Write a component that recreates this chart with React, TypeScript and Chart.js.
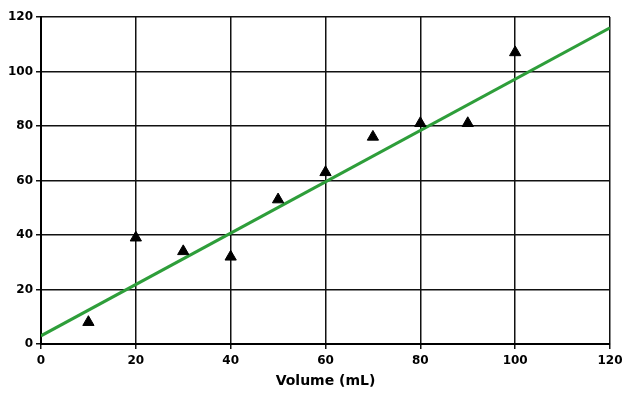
import React, { useEffect, useRef } from "react";
import { Chart, registerables } from "chart.js";

Chart.register(...registerables);

const volumes = [10, 20, 30, 40, 50, 60, 70, 80, 90, 100];
const values = [8, 39, 34, 32, 53, 63, 76, 81, 81, 107];
const fitX = [0, 120];
const fitY = [3, 116];
const xTitle = "Volume (mL)";

export default function App() {
  const ref = useRef<HTMLCanvasElement>(null);
  useEffect(() => {
    const ctx = ref.current!;
    const font = { family: "'DejaVu Sans', Verdana, sans-serif", size: 12, weight: "bold" as const };
    const chart = new Chart(ctx, {
      type: "scatter",
      data: {
        datasets: [
          {
            label: "fit",
            data: fitX.map((x, i) => ({ x, y: fitY[i] })),
            showLine: true,
            borderColor: "#2e9e3a",
            borderWidth: 3,
            pointRadius: 0,
            order: 1,
          },
          {
            label: "data",
            data: volumes.map((x, i) => ({ x, y: values[i] })),
            pointStyle: "triangle",
            pointRadius: 6.5,
            backgroundColor: "#000",
            borderColor: "#000",
            borderWidth: 1,
            order: 0,
          },
        ],
      },
      options: {
        animation: false,
        responsive: false,
        maintainAspectRatio: false,
        layout: { padding: { top: 17, right: 12, left: 0, bottom: 0 } },
        plugins: { legend: { display: false }, tooltip: { enabled: false } },
        scales: {
          x: {
            type: "linear",
            min: 0,
            max: 120,
            ticks: { stepSize: 20, color: "#000", font, padding: 5 },
            grid: { color: "#111", lineWidth: 1.5, tickLength: 5 },
            border: { color: "#000", width: 2 },
            title: { display: true, text: xTitle, color: "#000", font: { ...font, size: 14 }, padding: { top: 7 } },
            afterFit: (s: any) => { s.height = 50; s.paddingRight = 0; s.paddingLeft = 0; },
          },
          y: {
            type: "linear",
            min: 0,
            max: 120,
            ticks: { stepSize: 20, color: "#000", font, padding: 3 },
            grid: { color: "#111", lineWidth: 1.5, tickLength: 5 },
            border: { color: "#000", width: 2 },
            afterFit: (s: any) => { s.width = 41; },
          },
        },
      },
    });
    return () => chart.destroy();
  }, []);
  return (
    <div style={{ position: "fixed", left: 0, top: 0, width: 622, height: 394, background: "#fff" }}>
      <canvas ref={ref} width={622} height={394} style={{ display: "block" }} />
    </div>
  );
}
